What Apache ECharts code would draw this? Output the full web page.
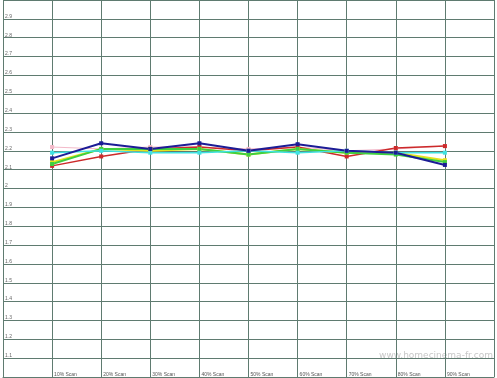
<!DOCTYPE html>
<html>
<head>
<meta charset="utf-8">
<script src="https://cdn.jsdelivr.net/npm/echarts@6/dist/echarts.min.js"></script>
<style>
  html, body { margin: 0; padding: 0; background: #fff; }
  #main { width: 497px; height: 378px; }
</style>
</head>
<body>
<div id="main"></div>
<script>
// scan positions on the x axis (1..9) and their labels
const scanPos = [1, 2, 3, 4, 5, 6, 7, 8, 9];
const scanLabels = ['10% Scan', '20% Scan', '30% Scan', '40% Scan', '50% Scan',
                    '60% Scan', '70% Scan', '80% Scan', '90% Scan'];

// measured values per series
const pinkVals   = [2.22, 2.21, 2.22, 2.22, 2.21, 2.22, 2.20, 2.21, 2.225];
const redVals    = [2.12, 2.17, 2.21, 2.22, 2.20, 2.22, 2.17, 2.215, 2.225];
const yellowVals = [2.14, 2.21, 2.20, 2.21, 2.18, 2.21, 2.19, 2.19, 2.15];
const greenVals  = [2.13, 2.21, 2.21, 2.21, 2.18, 2.21, 2.19, 2.18, 2.14];
const cyanVals   = [2.19, 2.20, 2.19, 2.19, 2.20, 2.19, 2.20, 2.19, 2.19];
const blueVals   = [2.16, 2.24, 2.21, 2.24, 2.20, 2.235, 2.20, 2.19, 2.125];

const gridColor = '#5f7b70';

function pairs(vals) {
  return scanPos.map((x, i) => [x, vals[i]]);
}

function lineSeries(name, vals, color, width) {
  return {
    name: name,
    type: 'line',
    data: pairs(vals),
    symbol: 'rect',
    symbolSize: 4,
    showSymbol: true,
    lineStyle: { color: color, width: width },
    itemStyle: { color: color },
    animation: false
  };
}

const chart = echarts.init(document.getElementById('main'));
chart.setOption({
  backgroundColor: '#ffffff',
  animation: false,
  grid: { left: 0, right: 1, top: 0, bottom: 1, containLabel: false },
  xAxis: {
    type: 'value',
    min: 0, max: 10, interval: 1,
    axisLine: { show: true, lineStyle: { color: gridColor, width: 1 } },
    axisTick: { show: false },
    splitLine: { show: true, lineStyle: { color: gridColor, width: 1 } },
    axisLabel: {
      inside: true,
      margin: 0,
      fontSize: 5,
      color: '#555',
      align: 'left',
      verticalAlign: 'bottom',
      padding: [0, 0, 0, 2],
      formatter: v => {
        const i = scanPos.indexOf(v);
        return i >= 0 ? scanLabels[i] : '';
      }
    }
  },
  yAxis: {
    type: 'value',
    min: 1, max: 3, interval: 0.1,
    axisLine: { show: true, lineStyle: { color: gridColor, width: 1 } },
    axisTick: { show: false },
    splitLine: { show: true, lineStyle: { color: gridColor, width: 1 } },
    axisLabel: {
      inside: true,
      margin: 2,
      fontSize: 5,
      color: '#666',
      align: 'left',
      verticalAlign: 'bottom',
      formatter: v => (v <= 1.001 || v >= 2.999) ? '' : String(+v.toFixed(1))
    }
  },
  graphic: [{
    type: 'text',
    right: 4,
    top: 351,
    style: {
      text: 'www.homecinema-fr.com',
      fontSize: 9,
      fill: '#c8c8c8',
      fontFamily: 'DejaVu Sans'
    }
  }],
  series: [
    lineSeries('pink', pinkVals, '#f3b9c9', 1),
    lineSeries('red', redVals, '#cc2a2a', 1.5),
    lineSeries('yellow', yellowVals, '#e4e41e', 2),
    lineSeries('green', greenVals, '#3fcf3f', 2),
    lineSeries('cyan', cyanVals, '#3fe2e2', 1.5),
    lineSeries('blue', blueVals, '#1c1c96', 2)
  ]
});
</script>
</body>
</html>
